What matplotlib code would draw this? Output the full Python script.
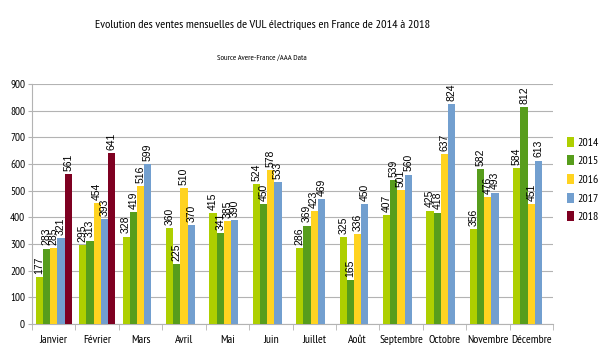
import numpy as np
import matplotlib
matplotlib.use('Agg')
import matplotlib.pyplot as plt

months = ['Janvier', 'Février', 'Mars', 'Avril', 'Mai', 'Juin', 'Juillet',
          'Août', 'Septembre', 'Octobre', 'Novembre', 'Décembre']
years = ['2014', '2015', '2016', '2017', '2018']
v2014 = [177, 295, 328, 360, 415, 524, 286, 325, 407, 425, 356, 584]
v2015 = [283, 313, 419, 225, 341, 450, 369, 165, 539, 418, 582, 812]
v2016 = [285, 454, 516, 510, 385, 578, 423, 336, 501, 637, 476, 451]
v2017 = [321, 393, 599, 370, 390, 533, 469, 450, 560, 824, 493, 613]
v2018 = [561, 641]
series = [v2014, v2015, v2016, v2017, v2018]
colors = ['#aecf00', '#579d1c', '#ffd320', '#729fcf', '#7e0021']

narrow = 'PT Sans Narrow'

fig = plt.figure(figsize=(6, 3.56), dpi=100)
ax = fig.add_axes([0.0533, 0.0899, 0.8684, 0.6742])

w = 0.166
x = np.arange(len(months))
for i, (vals, col, yr) in enumerate(zip(series, colors, years)):
    xs = x[:len(vals)] + (i - 2) * w
    ax.bar(xs, vals, width=w, color=col, label=yr, zorder=3)
    for xi, v in zip(xs, vals):
        ax.text(xi, v + 12, str(v), rotation=90, ha='center', va='bottom',
                fontsize=7.5, family='Liberation Sans', zorder=4)

ax.set_xlim(-0.5, 11.5)
ax.set_ylim(0, 900)
ax.set_yticks(range(0, 901, 100))
ax.set_yticklabels([str(t) for t in range(0, 901, 100)], family=narrow, fontsize=8)
ax.set_xticks(x)
ax.set_xticklabels(months, family=narrow, fontsize=8.5)
ax.set_xticks(np.arange(-0.5, 12, 1), minor=True)
ax.tick_params(axis='x', which='major', length=0, pad=8)
ax.tick_params(axis='x', which='minor', length=4, color='#b3b3b3')
ax.tick_params(axis='y', length=3, color='#b3b3b3', pad=2)
ax.grid(axis='y', color='#b3b3b3', linewidth=0.8, zorder=0)
for s in ['top', 'right']:
    ax.spines[s].set_visible(False)
for s in ['left', 'bottom']:
    ax.spines[s].set_color('#b3b3b3')

ax.legend(loc='upper left', bbox_to_anchor=(1.027, 0.78), frameon=False,
          prop={'family': narrow, 'size': 8.5}, handlelength=0.55,
          handleheight=0.9, handletextpad=0.3, labelspacing=0.65,
          borderpad=0, borderaxespad=0)

fig.text(0.437, 0.93, 'Evolution des ventes mensuelles de VUL électriques en France de 2014 à 2018',
         ha='center', va='center', family=narrow, fontsize=8.8)
fig.text(0.437, 0.837, 'Source Avere-France /AAA Data', ha='center', va='center',
         family=narrow, fontsize=6)

fig.savefig('out.png', dpi=100)
